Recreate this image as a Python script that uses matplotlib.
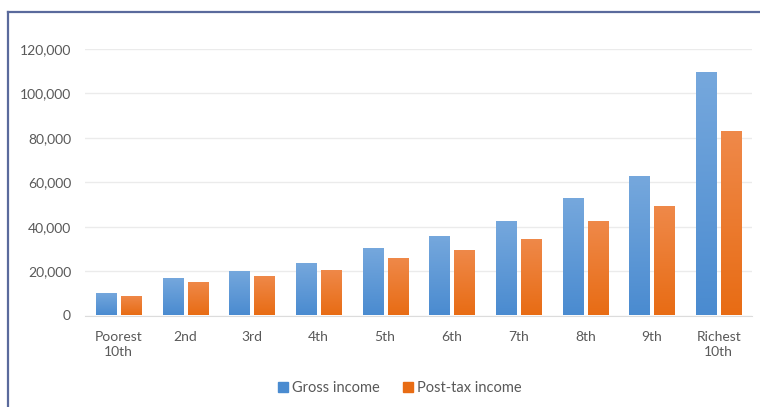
import numpy as np
import matplotlib.pyplot as plt
from matplotlib.lines import Line2D
from matplotlib.colors import LinearSegmentedColormap
from matplotlib.ticker import FuncFormatter

# Household income by decile (GBP per year)
deciles = ["Poorest\n10th", "2nd", "3rd", "4th", "5th",
           "6th", "7th", "8th", "9th", "Richest\n10th"]
gross_income = [10300, 16700, 20200, 23800, 30600,
                36000, 42700, 53000, 62900, 109700]
post_tax_income = [9000, 14900, 18000, 20700, 26100,
                   29700, 34600, 42700, 49400, 83100]

BLUE_TOP, BLUE_BOTTOM = "#76a8dd", "#4a8bd0"
ORANGE_TOP, ORANGE_BOTTOM = "#ef894a", "#e86c14"
TEXT_GREY = "#595959"

plt.rcParams["font.family"] = ["Lato", "DejaVu Sans"]


def shade_bars(ax, bars, top, bottom):
    """Paint each bar with a vertical gradient, clipped to the bar."""
    cmap = LinearSegmentedColormap.from_list("g", [bottom, top])
    grad = np.linspace(0, 1, 256).reshape(-1, 1)
    for b in bars:
        x0, y0 = b.get_x(), b.get_y()
        w, h = b.get_width(), b.get_height()
        im = ax.imshow(grad, cmap=cmap, origin="lower", aspect="auto",
                       extent=(x0, x0 + w, y0, y0 + h), zorder=3,
                       interpolation="bicubic")
        im.set_clip_path(b)
        b.set_facecolor("none")


def main():
    fig = plt.figure(figsize=(7.6, 4.07), dpi=100)
    ax = fig.add_axes([85 / 760, 1 - 315.5 / 407, 667 / 760, 266.5 / 407])

    x = np.arange(len(deciles))
    width = 0.30
    offset = 0.1875
    gross = ax.bar(x - offset, gross_income, width, color=BLUE_BOTTOM,
                   linewidth=0, zorder=2, label="Gross income")
    post = ax.bar(x + offset, post_tax_income, width, color=ORANGE_BOTTOM,
                  linewidth=0, zorder=2, label="Post-tax income")
    shade_bars(ax, gross, BLUE_TOP, BLUE_BOTTOM)
    shade_bars(ax, post, ORANGE_TOP, ORANGE_BOTTOM)

    ax.set_xlim(-0.5, len(deciles) - 0.5)
    ax.set_ylim(0, 120000)
    ax.set_yticks(np.arange(0, 120001, 20000))
    ax.yaxis.set_major_formatter(FuncFormatter(lambda v, p: f"{v:,.0f}"))
    ax.set_xticks(x)
    ax.set_xticklabels(deciles, linespacing=1.3)

    ax.grid(axis="y", color="#ebebeb", linewidth=1, zorder=0)
    ax.set_axisbelow(True)
    for side in ["top", "right", "left"]:
        ax.spines[side].set_visible(False)
    ax.spines["bottom"].set_color("#dcdcdc")
    ax.tick_params(axis="both", length=0, labelsize=10, colors=TEXT_GREY)
    ax.tick_params(axis="y", pad=10)
    ax.tick_params(axis="x", pad=11)

    handles = [plt.Rectangle((0, 0), 1, 1, color=BLUE_BOTTOM),
               plt.Rectangle((0, 0), 1, 1, color=ORANGE_BOTTOM)]
    fig.legend(handles, ["Gross income", "Post-tax income"],
               loc="center", bbox_to_anchor=(400 / 760, 1 - 388 / 407),
               ncol=2, frameon=False, fontsize=10.5, labelcolor=TEXT_GREY,
               handlelength=0.65, handleheight=0.65, handletextpad=0.3,
               columnspacing=1.6)

    # dark blue frame on the top and left edges
    frame = "#5a6a9c"
    fig.add_artist(Line2D([7.5 / 760, 7.5 / 760], [0, 1 - 11.5 / 407],
                          color=frame, linewidth=1.6))
    fig.add_artist(Line2D([7.5 / 760, 1], [1 - 11.5 / 407, 1 - 11.5 / 407],
                          color=frame, linewidth=1.6))

    fig.savefig("out.png", dpi=100)


if __name__ == "__main__":
    main()
